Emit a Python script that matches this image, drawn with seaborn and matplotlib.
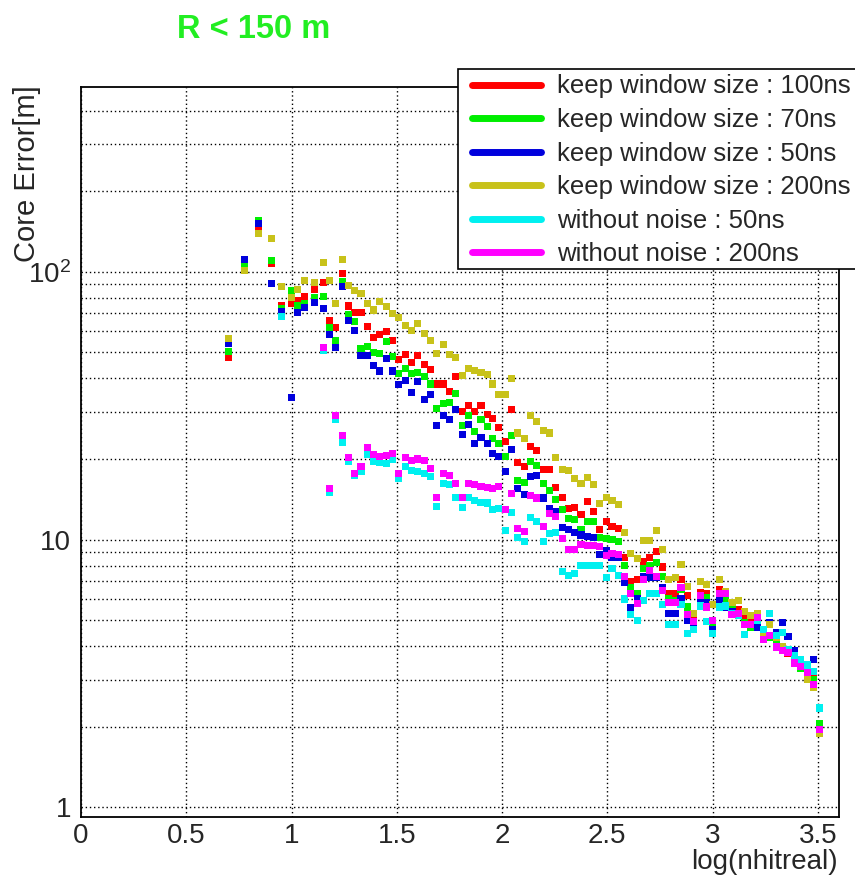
import numpy as np
import pandas as pd
import matplotlib
matplotlib.use("Agg")
import matplotlib.pyplot as plt
from matplotlib.lines import Line2D
from matplotlib.patches import Rectangle
from matplotlib.ticker import LogLocator, NullFormatter, MultipleLocator, FixedLocator
import seaborn as sns

nan = np.nan

# x positions: log10(nhit)
log_nhit = [0.699, 0.778, 0.845, 0.903, 0.954, 1.000, 1.030, 1.060, 1.110, 1.150, 1.180, 1.210, 1.240,
            1.270, 1.300, 1.330, 1.360, 1.390, 1.420, 1.450, 1.480, 1.510, 1.540,
            1.570, 1.600, 1.630, 1.660, 1.690, 1.720, 1.750, 1.780, 1.810, 1.840,
            1.870, 1.900, 1.930, 1.955, 1.985, 2.015, 2.045, 2.075, 2.105, 2.135,
            2.165, 2.195, 2.225, 2.255, 2.285, 2.315, 2.345, 2.375, 2.405, 2.435,
            2.465, 2.495, 2.522, 2.552, 2.582, 2.612, 2.642, 2.672, 2.702, 2.732,
            2.762, 2.792, 2.822, 2.850, 2.880, 2.911, 2.942, 2.971, 3.001, 3.031,
            3.061, 3.092, 3.122, 3.152, 3.182, 3.212, 3.242, 3.272, 3.302, 3.330,
            3.358, 3.388, 3.418, 3.449, 3.478, 3.508]

# core error [m] for each setting
err_keep_100 = [47.9, 104, 146, 107, 74.5, 76, 78.2, 81, 86, 91, 66, 62, 98.6,
                74.5, 70.5, 70.5, 62.6, 57, 58.5, 59.7, 55.5, 47, 49,
                46, 48.8, 45, 43, 38.1, 38.1, 35.8, 40.5, 30.2, 31.6,
                30.2, 31.6, 29.4, 28.4, 26.3, 23.2, 30.5, 19.4, 18.8, 22.2,
                21.5, 18.3, 18.2, 15.7, 14.4, 13.1, 13.2, 12.4, 13.9, 12.7,
                10.9, 11.7, 11.2, 11.0, 8.6, 7.0, 7.1, 8.3, 8.6, 9.0,
                7.9, 6.3, 6.3, 7.1, 6.2, 5.1, 6.35, 6.3, 5.0, 6.5,
                6.3, 5.8, 5.5, 5.1, 5.0, 5.0, 4.45, 4.3, 4.06, 3.95,
                3.74, 3.6, 3.32, 3.22, 3.04, 1.95]
err_keep_70 = [50.3, 107, 156, 110, 73, 85, 74.5, 76, 80, 81, 62, 55.5, 92,
               69, 65, 51.9, 52.6, 50, 49.5, 54.9, 48.4, 41.6, 43.4,
               41.6, 42.2, 40.6, 38.1, 30.9, 32.2, 32.4, 35.2, 26.7, 29.1,
               25.4, 28, 26.5, 23.9, 22.8, 20.4, 24.4, 16.6, 16.3, 19.6,
               18.9, 16.2, 15.2, 14.1, 12.9, 12.0, 11.9, 10.9, 11.7, 11.7,
               10.2, 10.1, 10.0, 9.8, 8.0, 6.6, 6.3, 7.8, 8.0, 8.2,
               7.3, 6.0, 5.9, 6.5, 5.6, 4.9, 6.0, 6.1, 4.7, 6.1,
               6.0, 5.5, 5.3, 4.9, 4.7, 4.8, 4.4, 4.3, 4.1, 4.0,
               3.8, 3.55, 3.3, 3.15, 3.0, 2.06]
err_keep_50 = [54, 111, 152, 90.2, 70.8, 34, 70.4, 73.7, 77, 72.8, 58.5, 52, 88,
               65.8, 60.3, 48.8, 48.8, 44.8, 42.6, 47.3, 42.6, 37.8, 39.2,
               35.3, 38.9, 33.4, 34.8, 26.7, 29, 28.1, 30.5, 24.6, 26.9,
               22.8, 24, 22.8, 21, 20.4, 18, 21.7, 15.5, 14.7, 17.2,
               17.3, 14.3, 13.1, 12.7, 11.1, 10.9, 10.6, 10.4, 10.3, 10.2,
               8.8, 9.1, 8.6, 8.6, 6.9, 5.55, 6.0, 7.3, 7.25, 7.2,
               6.6, 5.3, 5.3, 6.0, 5.0, 4.7, 5.9, 5.8, 4.6, 5.9,
               5.6, 5.4, 5.2, 4.8, 4.8, 4.7, 4.4, 4.9, 4.5, 4.9,
               4.36, 3.86, 3.5, 3.4, 3.57, 2.35]
err_keep_200 = [56.5, 101, 139, 133, 88, 80, 86, 93, 91, 108, 93, 76, 111,
                89, 85, 83, 76, 72, 77.5, 74, 69.6, 67.6, 63,
                60.3, 64, 59, 55.2, 49.4, 53.6, 49, 47.7, 41, 43.5,
                42.8, 42, 41.2, 38.1, 34.7, 34.7, 40, 25, 23.9, 29.1,
                27.6, 25.5, 25, 20.2, 18.2, 18.1, 16.9, 16.2, 17, 16.1,
                13.6, 14.4, 14, 13.5, 10.6, 8.9, 8.5, 9.9, 9.9, 10.8,
                9.2, 7.1, 7.2, 8.1, 6.7, 5.3, 7.0, 6.8, 5.7, 7.1,
                6.4, 5.8, 5.9, 5.4, 5.2, 5.3, 4.4, 4.8, 4.3, 4.0,
                3.9, 3.6, 3.4, 3.0, 2.8, 1.89]
err_clean_50 = [nan, nan, nan, nan, 68, nan, nan, nan, nan, 51, 15, 28, 23,
                19.5, 17.3, 18, 20.8, 19.6, 19.4, 19.2, 19.9, 16.9, 18.8,
                18.1, 18, 17.6, 17.2, 13.3, 16.2, 16, 14.4, 13.2, 14.4,
                14, 13.8, 13.7, 13, 13.1, 10.8, 12.6, 10.2, 9.8, 12.1,
                11.7, 9.8, 10.5, 10.6, 7.6, 7.35, 7.45, 8.0, 8.0, 8.0,
                8.0, 7.2, 7.8, 7.35, 6.0, 5.25, 5.0, 5.9, 6.3, 6.3,
                5.7, 4.8, 4.8, 5.7, 4.45, 4.6, 5.65, 4.96, 4.45, 5.6,
                5.65, 5.3, 5.2, 4.43, 4.8, 5.0, 4.6, 5.3, 4.4, 4.5,
                3.9, 3.7, 3.57, 3.4, 3.22, 2.35]
err_clean_200 = [nan, nan, nan, nan, nan, nan, nan, nan, nan, 52, 15.5, 29, 24.4,
                 20.2, 17.7, 18.8, 22, 20.8, 20.5, 20.6, 21, 17.7, 20.2,
                 19.7, 20, 19.7, 18.4, 14.4, 17.7, 17.3, 16.2, 14.4, 16.2,
                 16, 15.8, 15.6, 15.5, 15.8, 13, 14.9, 11, 10.7, 14.6,
                 14.3, 11.2, 12.5, 12.2, 10.1, 9.2, 9.2, 9.6, 9.5, 9.5,
                 9.4, 8.7, 8.9, 8.8, 7.3, 6.3, 5.75, 7.07, 7.65, 7.3,
                 6.45, 5.8, 5.8, 6.6, 5.25, 4.93, 6.2, 5.6, 5.0, 6.3,
                 6.3, 5.24, 5.3, 4.83, 4.8, 5.1, 4.23, 4.4, 3.97, 3.84,
                 3.78, 3.46, 3.37, 3.18, 2.87, 1.96]

labels = ["keep window size : 100ns", "keep window size : 70ns", "keep window size : 50ns",
          "keep window size : 200ns", "without noise : 50ns", "without noise : 200ns"]
colors = ["#ff0000", "#00ee00", "#0000dd", "#c8c21a", "#00f0f0", "#ff00ff"]
x_ticks = [0, 0.5, 1, 1.5, 2, 2.5, 3, 3.5]
x_tick_labels = ["0", "0.5", "1", "1.5", "2", "2.5", "3", "3.5"]
y_ticks = [1, 10, 100]
y_tick_labels = ["1", "10", r"$\mathregular{10^2}$"]

sns.set_style("white")
plt.rcParams['font.family'] = ['Liberation Sans', 'DejaVu Sans']
plt.rcParams['mathtext.fontset'] = 'custom'
plt.rcParams['mathtext.rm'] = 'Liberation Sans'

df = pd.DataFrame({"log_nhit": log_nhit,
                   labels[0]: err_keep_100, labels[1]: err_keep_70, labels[2]: err_keep_50,
                   labels[3]: err_keep_200, labels[4]: err_clean_50, labels[5]: err_clean_200})
df = df.melt(id_vars="log_nhit", var_name="setting", value_name="core_err").dropna()

fig = plt.figure(figsize=(8.55, 8.85), dpi=100)
ax = fig.add_axes([0.0947, 0.0768, 0.8865, 0.8249])
ax.set_yscale("log")

sns.scatterplot(data=df, x="log_nhit", y="core_err", hue="setting", hue_order=labels,
                palette=colors, marker="s", s=26, linewidth=0, legend=False, ax=ax, zorder=3)

ax.set_xlim(0, 3.6)
ax.set_ylim(0.92, 490)
ax.set_xlabel("")
ax.set_ylabel("")

# ROOT-like axes
ax.xaxis.set_major_locator(FixedLocator(x_ticks))
ax.set_xticklabels(x_tick_labels)
ax.xaxis.set_minor_locator(MultipleLocator(0.1))
ax.yaxis.set_major_locator(FixedLocator(y_ticks))
ax.set_yticklabels(y_tick_labels)
ax.yaxis.set_minor_locator(LogLocator(base=10, subs=np.arange(2, 10)))
ax.yaxis.set_minor_formatter(NullFormatter())
ax.tick_params(axis="both", which="both", direction="in", top=False, right=False,
               labelsize=20, width=1.1, color="black")
ax.tick_params(axis="y", which="major", length=16.5, pad=7)
ax.tick_params(axis="y", which="minor", length=10)
ax.tick_params(axis="x", which="major", length=15, pad=4)
ax.tick_params(axis="x", which="minor", length=8)

ax.grid(True, which="major", axis="x", color="black", linestyle=(0, (1, 2)), linewidth=1)
ax.grid(True, which="both", axis="y", color="black", linestyle=(0, (1, 2)), linewidth=1)
ax.set_axisbelow(True)
for sp in ax.spines.values():
    sp.set_color("black")
    sp.set_linewidth(1.3)

fig.text(177 / 855, 1 - 30 / 885, "R < 150 m", color="#22ee22", fontsize=23.5,
         fontweight="bold", ha="left", va="center")
fig.text(27 / 855, 1 - 85 / 885, "Core Error[m]", rotation=90, fontsize=21,
         ha="center", va="top")
fig.text(838 / 855, 1 - 862 / 885, "log(nhitreal)", fontsize=20, ha="right", va="center")

# legend box runs off the right edge of the canvas, as in the original
fig.patches.append(Rectangle((458 / 855, 1 - 269 / 885), 440 / 855, 200 / 885,
                             transform=fig.transFigure, facecolor="white",
                             edgecolor="black", linewidth=1.2, zorder=2))
handles = [Line2D([], [], color=c, lw=5) for c in colors]
leg = fig.legend(handles, labels, loc="upper left", bbox_to_anchor=(472 / 855, 1 - 74.5 / 885),
                 frameon=False, fontsize=18.5, handlelength=2.7, handletextpad=0.6,
                 labelspacing=0.37, borderpad=0, borderaxespad=0)
leg.set_zorder(5)

fig.savefig("out.png", dpi=100)
